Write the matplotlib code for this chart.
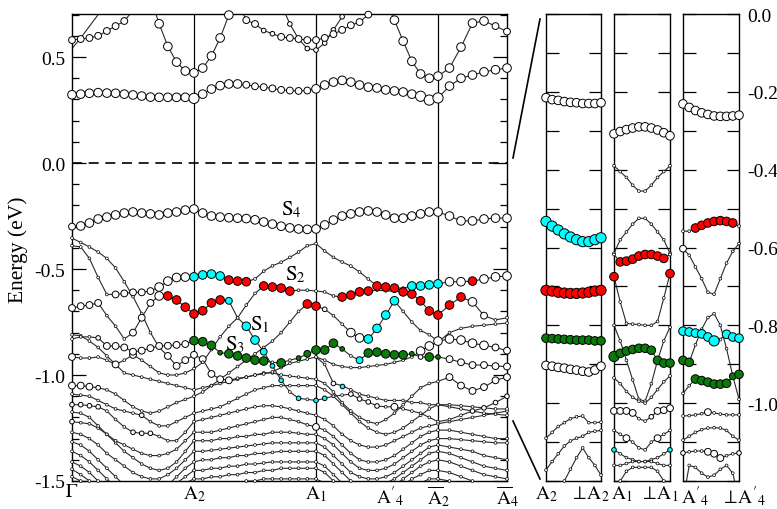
import numpy as np
import matplotlib
matplotlib.use("Agg")
import matplotlib.pyplot as plt
from matplotlib.ticker import MultipleLocator, FixedLocator
from matplotlib.lines import Line2D

plt.rcParams['font.family'] = ['Liberation Serif', 'DejaVu Serif']
plt.rcParams['mathtext.fontset'] = 'stix'
plt.rcParams['axes.unicode_minus'] = False

N = None

# k-path: segment lengths (plot units) and number of k-steps per segment
seg_len = [122, 122, 122, 69]
seg_steps = [14, 14, 14, 6]
kx = [0.0]
for L, n in zip(seg_len, seg_steps):
    kx += list(np.linspace(kx[-1], kx[-1] + L, n + 1)[1:])
kx = np.array(kx)

k_labels = [r"$\Gamma$", r"$\mathrm{A}_2$", r"$\mathrm{A}_1$", r"$\mathrm{A}'_4$",
            r"$\overline{\mathrm{A}}_2$", r"$\overline{\mathrm{A}}_4$"]
k_label_pos = [0, 122, 244, 318, 366, 435]
k_lines = [122, 244, 366]

# ---- main panel bands: energies (eV), marker size code, fill code ----
U1 = [0.58, 0.585, 0.59, 0.60, 0.623, 0.646, 0.67, 0.72, 0.78, 0.78, 0.657, 0.55, 0.476, 0.434, 0.425,
      0.448, 0.505, 0.59, 0.698, 0.76, 0.674, 0.656, 0.625, 0.61, 0.595, 0.59, 0.585, 0.58, 0.58,
      0.59, 0.608, 0.628, 0.65, 0.665, 0.70, 0.76, 0.76, 0.674, 0.575, 0.48, 0.42, 0.40, 0.41,
      0.448, 0.547, 0.66, 0.67, 0.646, 0.62]
U1_s = "222222222233333" + "33332221122222" + "22222233333333" + "333322"
U2 = [N] * 24 + [0.75, 0.656, 0.585, 0.54, 0.533, 0.566, 0.628, 0.69, 0.75] + [N] * 16
U2_s = "1" * 49
U3 = [0.54, 0.59, 0.645, 0.70, 0.76] + [N] * 44
U3_s = "9" * 49
C2 = [0.322, 0.325, 0.329, 0.332, 0.33, 0.329, 0.325, 0.321, 0.316, 0.311, 0.31, 0.31, 0.31, 0.31, 0.305,
      0.325, 0.349, 0.365, 0.373, 0.373, 0.369, 0.362, 0.358, 0.352, 0.345, 0.342, 0.34, 0.342, 0.35,
      0.368, 0.382, 0.39, 0.382, 0.368, 0.358, 0.354, 0.345, 0.34, 0.335, 0.325, 0.315, 0.297, 0.307,
      0.363, 0.40, 0.415, 0.43, 0.44, 0.448]
C2_s = "333333333333334" + "33333222222223" + "33333333333444" + "333333"
V1 = [-0.30, -0.297, -0.283, -0.264, -0.255, -0.245, -0.236, -0.231, -0.236, -0.24, -0.245, -0.236, -0.231, -0.222, -0.217,
      -0.236, -0.25, -0.255, -0.258, -0.26, -0.262, -0.268, -0.278, -0.288, -0.298, -0.306, -0.311, -0.313, -0.311,
      -0.292, -0.269, -0.25, -0.24, -0.231, -0.226, -0.231, -0.245, -0.26, -0.26, -0.25, -0.24, -0.231, -0.231,
      -0.25, -0.273, -0.273, -0.264, -0.26, -0.26]
V1_s = "233333333333333" + "33333333333333" + "33333333333333" + "333333"
B = [-0.39, -0.396, -0.45, -0.54, -0.62, -0.62, -0.615, -0.61, -0.61, -0.604, -0.585, -0.557, -0.54, -0.538, -0.537,
     -0.528, -0.524, -0.533, -0.552, -0.557, -0.56, -0.547, -0.51, -0.485, -0.468, -0.445, -0.42, -0.39, -0.38,
     -0.415, -0.445, -0.467, -0.486, -0.514, -0.547, -0.58, -0.585, -0.59, -0.59, -0.58, -0.58, -0.575, -0.57,
     -0.56, -0.56, -0.557, -0.547, -0.537, -0.533]
B_s = "000002222233333" + "33333300000000" + "00000033303333" + "333333"
B_c = "wwwwwwwwwwwwwwc" + "cccrrrwwwwwwww" + "wwwwwwrrrwcccc" + "wwrwww"
A = [-0.354, -0.375, -0.396, -0.42, -0.45, -0.495, -0.56, -0.63, -0.71, -0.80, -0.87, -0.91, -0.957, -0.93, -0.905,
     -0.925, -0.995, -1.02, -1.025, -1.015, -1.01, -1.0, -0.995, -0.985, -0.965, -0.945, -0.935, -0.925, -0.915,
     -0.95, -1.04, -1.05, -1.07, -1.09, -1.10, -1.11, -1.12, -1.12, -1.12, -1.13, -1.13, -1.14, -1.14,
     -1.14, -1.145, -1.15, -1.155, -1.16, -1.16]
A_s = "000000000002222" + "22220000000000" + "01100000000000" + "000000"
A_c = "w" * 29 + "wwcwwwwwwwwwww" + "w" * 6
R = [-0.684, -0.675, -0.67, -0.66, -0.72, -0.77, -0.83, -0.80, -0.73, -0.66, -0.627, -0.627, -0.646, -0.68, -0.712,
     -0.697, -0.66, -0.646, -0.65, -0.73, -0.77, -0.835, -0.89, -0.957, -1.025, -1.08, -1.11, -1.115, -1.12,
     -1.11, -1.10, -1.095, -1.09, -1.113, -1.127, -1.146, -1.15, -1.15, -1.16, -1.17, -1.18, -1.2, -1.22,
     -1.21, -1.19, -1.17, -1.155, -1.13, -1.10]
R_s = "222200022233333" + "33320332110101" + "10011110200000" + "001111"
R_c = "wwwwwwwwwwwrrrr" + "rrrcwcccccwcwc" + "cwwwwwwwwwwwww" + "wwwwww"
G = [-0.83, -0.82, -0.82, -0.825, -0.863, -0.863, -0.87, -0.89, -0.885, -0.873, -0.863, -0.862, -0.858, -0.854, -0.838,
     -0.843, -0.86, -0.895, -0.90, -0.91, -0.92, -0.93, -0.934, -0.94, -0.943, -0.93, -0.92, -0.90, -0.882,
     -0.882, -0.85, -0.877, -0.91, -0.93, -0.896, -0.892, -0.90, -0.905, -0.905, -0.90, -0.915, -0.915, -0.915,
     -0.925, -0.94, -0.953, -0.953, -0.958, -0.96]
G_s = "000122222222223" + "33133333030123" + "33102333331131" + "222222"
G_c = "wwwwwwwwwwwwwwg" + "ggggggggwgwggg" + "gggwcggggggwgg" + "wwwwww"
S2 = [-0.915, -0.92, -0.92, -0.915, -0.93, -0.95, -0.93, -0.905, -0.93, -0.96, -0.99, -1.0, -1.0, -0.99, -0.97,
      -0.94, -0.88, -0.82, -0.77, -0.73, -0.67, -0.615, -0.58, -0.585, -0.59, -0.604, -0.60, -0.60, -0.604,
      -0.608, -0.627, -0.632, -0.623, -0.608, -0.604, -0.60, -0.603, -0.605, -0.608, -0.618, -0.65, -0.698, -0.717,
      -0.67, -0.632, -0.655, -0.72, -0.74, -0.73]
S2_s = "200002020000000" + "00000003333000" + "00333300033333" + "333200"
S2_c = "w" * 15 + "wwwwwwwrrrrwww" + "wwrrrrwwwrrrrr" + "rrwwww"
D = [-1.05, -1.05, -1.055, -1.06, -1.07, -1.09, -1.12, -1.15, -1.17, -1.18, -1.17, -1.15, -1.13, -1.115, -1.10,
     -1.08, -1.05, -1.02, -0.99, -0.96, -0.93, -0.90, -0.87, -0.84, -0.80, -0.75, -0.70, -0.665, -0.675,
     -0.69, -0.72, -0.76, -0.80, -0.825, -0.83, -0.78, -0.717, -0.65, -0.70, -0.75, -0.79, -0.81, -0.84,
     -0.83, -0.835, -0.85, -0.86, -0.87, -0.885]
D_s = "222100000000000" + "00000000000033" + "10033333300003" + "333322"
D_c = "w" * 15 + "wwwwwwwwwwwwrr" + "wwwwwccccwwwww" + "wwwwww"
W = [N] * 28 + [-0.915, -0.93, -0.95, -0.96, -0.965, -0.965, -0.96, -0.955, -0.95, -0.94, -0.93, -0.915, -0.887, -0.863, -0.845,
                -0.80, -0.78, -0.77, -0.765, -0.76, -0.755]
W_s = "0" * 40 + "330" + "000000"
L1 = [-0.81, -0.815, -0.84, -0.87, -0.91, -0.95, -0.99, -1.0, -1.01, -1.02, -1.03, -1.04, -1.05, -1.06, -1.07,
      -1.06, -1.05, -1.04, -1.03, -1.02, -1.01, -1.0, -0.99, -0.99, -1.0, -1.005, -1.01, -1.015, -1.02,
      -1.04, -1.08, -1.13, -1.17, -1.2, -1.22, -1.23, -1.21, -1.18, -1.14, -1.10, -1.06, -1.04, -1.03,
      -1.01, -1.05, -1.075, -1.057, -1.025, -1.01]
L1_s = "0" * 43 + "222222"
L2 = [-1.09, -1.095, -1.10, -1.12, -1.14, -1.16, -1.17, -1.18, -1.19, -1.22, -1.24, -1.24, -1.22, -1.20, -1.18,
      -1.17, -1.16, -1.15, -1.13, -1.11, -1.09, -1.07, -1.06, -1.05, -1.05, -1.05, -1.05, -1.05, -1.05,
      -1.07, -1.10, -1.14, -1.18, -1.22, -1.25, -1.27, -1.28, -1.27, -1.25, -1.22, -1.19, -1.16, -1.14,
      -1.15, -1.16, -1.17, -1.18, -1.185, -1.19]
L2_s = "000000001000000" + "0" * 34
L3 = [-1.14, -1.14, -1.145, -1.15, -1.17, -1.21, -1.245, -1.27, -1.275, -1.275, -1.29, -1.31, -1.31, -1.27, -1.22,
      -1.21, -1.20, -1.19, -1.18, -1.17, -1.16, -1.15, -1.145, -1.145, -1.15, -1.16, -1.17, -1.18, -1.19,
      -1.21, -1.24, -1.28, -1.31, -1.33, -1.34, -1.34, -1.33, -1.31, -1.29, -1.27, -1.25, -1.24, -1.23,
      -1.22, -1.21, -1.20, -1.19, -1.18, -1.17]
L3_s = "111100011100000" + "0" * 34
L4 = [-1.175, -1.18, -1.20, -1.24, -1.28, -1.31, -1.33, -1.35, -1.37, -1.38, -1.38, -1.37, -1.35, -1.31, -1.27,
      -1.27, -1.27, -1.26, -1.25, -1.24, -1.23, -1.22, -1.21, -1.20, -1.20, -1.21, -1.22, -1.235, -1.245,
      -1.26, -1.29, -1.33, -1.37, -1.40, -1.41, -1.41, -1.40, -1.38, -1.35, -1.32, -1.29, -1.27, -1.26,
      -1.26, -1.27, -1.28, -1.29, -1.30, -1.30]
L4_s = "0" * 28 + "2" + "0" * 20
L5 = [-1.22, -1.225, -1.23, -1.25, -1.28, -1.32, -1.36, -1.39, -1.42, -1.44, -1.45, -1.44, -1.41, -1.36, -1.31,
      -1.31, -1.31, -1.30, -1.30, -1.29, -1.29, -1.28, -1.28, -1.27, -1.27, -1.27, -1.275, -1.28, -1.28,
      -1.30, -1.33, -1.37, -1.41, -1.44, -1.45, -1.45, -1.44, -1.42, -1.39, -1.36, -1.33, -1.31, -1.30,
      -1.30, -1.305, -1.31, -1.315, -1.32, -1.32]
L5_s = "1" + "0" * 48
L6 = [-1.27, -1.28, -1.30, -1.33, -1.37, -1.40, -1.43, -1.46, -1.48, -1.49, -1.49, -1.47, -1.44, -1.40, -1.36,
      -1.36, -1.355, -1.35, -1.345, -1.34, -1.335, -1.33, -1.325, -1.32, -1.32, -1.32, -1.32, -1.32, -1.32,
      -1.34, -1.38, -1.42, -1.46, -1.48, -1.49, -1.49, -1.48, -1.46, -1.43, -1.40, -1.37, -1.34, -1.33,
      -1.34, -1.35, -1.36, -1.38, -1.39, -1.40]
L7 = [-1.316, -1.33, -1.36, -1.40, -1.44, -1.48, -1.52, -1.55, -1.56, -1.56, -1.55, -1.52, -1.48, -1.44, -1.41,
      -1.40, -1.40, -1.39, -1.39, -1.38, -1.38, -1.37, -1.37, -1.365, -1.36, -1.36, -1.36, -1.36, -1.36,
      -1.38, -1.42, -1.46, -1.50, -1.53, -1.54, -1.53, -1.51, -1.49, -1.46, -1.43, -1.40, -1.37, -1.36,
      -1.37, -1.39, -1.41, -1.43, -1.44, -1.45]
L8 = [-1.36, -1.38, -1.41, -1.45, -1.49, -1.53, -1.56, -1.58, -1.60, -1.60, -1.58, -1.55, -1.51, -1.48, -1.45,
      -1.45, -1.44, -1.44, -1.43, -1.43, -1.42, -1.42, -1.415, -1.41, -1.41, -1.41, -1.41, -1.41, -1.41,
      -1.43, -1.47, -1.51, -1.55, -1.57, -1.58, -1.57, -1.55, -1.52, -1.49, -1.46, -1.43, -1.41, -1.40,
      -1.41, -1.43, -1.45, -1.47, -1.48, -1.49]
L9 = [-1.41, -1.43, -1.46, -1.50, -1.55, -1.60, -1.62, -1.63, -1.63, -1.62, -1.60, -1.57, -1.54, -1.51, -1.49,
      -1.49, -1.48, -1.48, -1.47, -1.47, -1.46, -1.46, -1.45, -1.45, -1.44, -1.44, -1.44, -1.44, -1.44,
      -1.46, -1.50, -1.55, -1.58, -1.60, -1.61, -1.60, -1.58, -1.55, -1.52, -1.49, -1.47, -1.45, -1.45,
      -1.46, -1.48, -1.50, -1.52, -1.53, -1.54]
L10 = [-1.445, -1.47, -1.50, -1.54, -1.58, -1.62, -1.64, -1.65, -1.65, -1.64, -1.62, -1.60, -1.58, -1.56, -1.55,
       -1.54, -1.53, -1.52, -1.52, -1.51, -1.50, -1.50, -1.49, -1.49, -1.49, -1.49, -1.49, -1.49, -1.49,
       -1.51, -1.55, -1.59, -1.62, -1.64, -1.65, -1.64, -1.62, -1.59, -1.56, -1.53, -1.51, -1.49, -1.49,
       -1.50, -1.52, -1.54, -1.56, -1.57, -1.58]
L11 = [-1.48, -1.50, -1.53, -1.57, -1.61, -1.64, -1.66, -1.67, -1.67, -1.66, -1.64, -1.62, -1.60, -1.59, -1.58,
       -1.58, -1.57, -1.57, -1.56, -1.56, -1.55, -1.55, -1.55, -1.54, -1.54, -1.54, -1.54, -1.54, -1.54,
       -1.56, -1.60, -1.63, -1.66, -1.68, -1.69, -1.68, -1.66, -1.63, -1.60, -1.57, -1.55, -1.54, -1.54,
       -1.55, -1.56, -1.58, -1.60, -1.61, -1.62]

main_bands = [
    (L11, "", ""), (L10, "", ""), (L9, "", ""), (L8, "", ""), (L7, "", ""), (L6, "", ""),
    (L5, L5_s, ""), (L4, L4_s, ""), (L3, L3_s, ""), (L2, L2_s, ""), (L1, L1_s, ""),
    (W, W_s, ""), (D, D_s, D_c), (A, A_s, A_c), (R, R_s, R_c), (S2, S2_s, S2_c), (G, G_s, G_c),
    (B, B_s, B_c), (V1, V1_s, ""), (C2, C2_s, ""), (U3, U3_s, ""), (U2, U2_s, ""), (U1, U1_s, ""),
]

state_labels = [r"$\mathrm{S}_4$", r"$\mathrm{S}_2$", r"$\mathrm{S}_1$", r"$\mathrm{S}_3$"]
state_x = [219, 223, 188, 163]
state_y = [-0.215, -0.522, -0.76, -0.855]

# ---- zoom panels (10 k-points each) ----
# bottom labels: text, x pixel, alignment
panel_labels = [
    (r"$\mathrm{A}_2$", 546, 'center'), (r"$\perp\!\mathrm{A}_2$", 610, 'right'),
    (r"$\mathrm{A}_1$", 611, 'left'), (r"$\perp\!\mathrm{A}_1$", 679, 'right'),
    (r"$\mathrm{A}'_4$", 681, 'left'), (r"$\perp\!\mathrm{A}'_4$", 766, 'right'),
]
panel_ytick_vals = [0.0, -0.2, -0.4, -0.6, -0.8, -1.0]
panel_ytick_text = ["0.0", "-0.2", "-0.4", "-0.6", "-0.8", "-1.0"]

p1 = [
    ([-0.215, -0.22, -0.222, -0.225, -0.227, -0.228, -0.23, -0.23, -0.23, -0.228], "3" * 10, ""),
    ([-0.533, -0.545, -0.555, -0.565, -0.573, -0.58, -0.585, -0.585, -0.58, -0.575], "4" * 10, "c" * 10),
    ([-0.71, -0.712, -0.715, -0.717, -0.718, -0.718, -0.717, -0.715, -0.712, -0.71], "4" * 10, "r" * 10),
    ([-0.833, -0.834, -0.835, -0.836, -0.837, -0.838, -0.838, -0.838, -0.84, -0.84], "3" * 10, "g" * 10),
    ([-0.903, -0.905, -0.908, -0.91, -0.913, -0.915, -0.918, -0.92, -0.915, -0.905], "3" * 10, ""),
    ([-1.09, -1.075, -1.06, -1.05, -1.04, -1.035, -1.033, -1.05, -1.05, -1.049], "0" * 10, ""),
    ([-1.172, -1.15, -1.13, -1.11, -1.097, -1.09, -1.085, -1.075, -1.072, -1.07], "0" * 10, ""),
    ([N, N, -1.25, -1.2, -1.17, -1.14, -1.115, -1.14, -1.16, -1.185], "0" * 10, ""),
]
p2 = [
    ([-0.308, -0.302, -0.297, -0.293, -0.29, -0.29, -0.293, -0.298, -0.305, -0.313], "3" * 10, ""),
    ([-0.39, -0.405, -0.42, -0.44, -0.455, -0.455, -0.44, -0.42, -0.405, -0.39], "0" * 10, ""),
    ([-0.615, -0.58, -0.56, -0.54, -0.525, -0.525, -0.54, -0.56, -0.58, -0.615], "0" * 10, ""),
    ([-0.618, -0.637, -0.635, -0.63, -0.622, -0.618, -0.618, -0.622, -0.628, -0.618], "0333333330", "wrrrrrrrrw"),
    ([-0.675, -0.74, -0.795, -0.797, -0.798, -0.80, -0.80, -0.79, -0.73, -0.667], "3000000003", "rwwwwwwwwr"),
    ([-0.88, -0.872, -0.866, -0.862, -0.859, -0.859, -0.864, -0.89, -0.897, -0.897], "4333333333", "g" * 10),
    ([-0.80, -0.84, -0.89, -0.94, -0.99, -0.995, -0.95, -0.89, -0.84, -0.805], "0" * 10, ""),
    ([-0.935, -0.95, -0.97, -0.985, -0.995, -1.0, -0.985, -0.965, -0.945, -0.93], "0" * 10, ""),
    ([-1.02, -1.02, -1.02, -1.025, -1.04, -1.046, -1.035, -1.02, -1.018, -1.013], "2222001222", ""),
    ([-1.07, -1.08, -1.09, -1.10, -1.115, -1.12, -1.10, -1.09, -1.08, -1.07], "0020000200", ""),
    ([-1.12, -1.13, -1.14, -1.145, -1.15, -1.15, -1.145, -1.14, -1.13, -1.12], "1000000001", "cwwwwwwwwc"),
    ([-1.16, -1.16, -1.155, -1.15, -1.15, -1.15, -1.15, -1.155, -1.16, -1.16], "0" * 10, ""),
    ([-1.25, -1.20, -1.175, -1.165, -1.165, -1.165, -1.165, -1.175, -1.20, -1.25], "0" * 10, ""),
]
p3 = [
    ([-0.231, -0.24, -0.248, -0.254, -0.258, -0.262, -0.263, -0.263, -0.262, -0.26], "3" * 10, ""),
    ([-0.558, -0.558, -0.55, -0.543, -0.537, -0.533, -0.531, -0.533, -0.537, -0.545], "0033333330", "wwrrrrrrrw"),
    ([-0.603, -0.62, -0.65, -0.68, -0.715, -0.72, -0.68, -0.64, -0.61, -0.59], "2000000000", ""),
    ([-0.89, -0.895, -0.85, -0.81, -0.78, -0.77, -0.80, -0.86, -0.93, -0.99], "3300000000", "ggwwwwwwww"),
    ([-0.815, -0.817, -0.82, -0.822, -0.83, -0.84, -0.835, -0.823, -0.83, -0.833], "3333340333", "ccccccwccc"),
    ([-0.975, -0.955, -0.938, -0.942, -0.946, -0.951, -0.951, -0.949, -0.931, -0.926], "0033333323", "wwgggggggg"),
    ([-1.033, -1.032, -1.03, -1.027, -1.023, -1.025, -1.028, -1.03, -1.03, -1.03], "0000200000", ""),
    ([-1.095, -1.085, -1.075, -1.068, -1.064, -1.063, -1.064, -1.07, -1.085, -1.095], "0" * 10, ""),
    ([-1.128, -1.125, -1.123, -1.123, -1.125, -1.13, -1.141, -1.135, -1.13, -1.128], "1000222001", ""),
    ([-1.25, -1.16, -1.165, -1.18, -1.19, -1.185, -1.17, -1.16, -1.18, -1.25], "0" * 10, ""),
]

# marker diameters in pixels for each size code, fills for each colour code
DIAM = {'0': 2.8, '1': 4.6, '2': 6.8, '3': 8.6, '4': 10.2}
FILL = {'w': 'white', 'r': '#ff0000', 'c': '#00ffff', 'g': '#0a7a0a'}
LINE_COL = '#2a2a2a'


def draw_band(ax, x, e, sizes, cols, ylo, yhi):
    e = np.array(e, dtype=float)
    n = len(e)
    sizes = (sizes + '0' * n)[:n]
    cols = (cols + 'w' * n)[:n]
    ax.plot(x, e, color=LINE_COL, lw=0.8, zorder=2)
    for colored in (False, True):
        xs, ys, ss, fc, lw = [], [], [], [], []
        for xi, ei, s, c in zip(x, e, sizes, cols):
            if np.isnan(ei) or ei < ylo or ei > yhi or s not in DIAM:
                continue
            if (c != 'w') != colored:
                continue
            d = DIAM[s] * 0.72
            xs.append(xi); ys.append(ei); ss.append(d * d)
            fc.append(FILL[c]); lw.append(0.5 if s == '0' else 0.7)
        if xs:
            ax.scatter(xs, ys, s=ss, c=fc, edgecolors='black', linewidths=lw,
                       zorder=4 if colored else 3, clip_on=False)


W_PX, H_PX = 777, 510
fig = plt.figure(figsize=(W_PX / 100, H_PX / 100), dpi=100)
bot = 1 - 482 / H_PX
hgt = 467 / H_PX

# main panel
ax = fig.add_axes([72 / W_PX, bot, 435 / W_PX, hgt])
ylo, yhi = -1.5, 0.703
for e, s, c in main_bands:
    draw_band(ax, kx, e, s, c, ylo, yhi)
for xv in k_lines:
    ax.axvline(xv, color='black', lw=0.9, zorder=1)
ax.axhline(0.0, color='black', lw=1.2, ls=(0, (6, 4)), zorder=1)
ax.set_xlim(0, 435)
ax.set_ylim(ylo, yhi)
ax.set_xticks([])
ax.yaxis.set_major_locator(FixedLocator([-1.5, -1.0, -0.5, 0.0, 0.5]))
ax.yaxis.set_minor_locator(MultipleLocator(0.1))
ax.set_yticklabels(["-1.5", "-1.0", "-0.5", "0.0", "0.5"], fontsize=14)
ax.tick_params(axis='y', which='both', direction='in', left=True, right=True, pad=5)
ax.tick_params(axis='y', which='major', length=10, width=0.9)
ax.tick_params(axis='y', which='minor', length=5, width=0.9)
for sp in ax.spines.values():
    sp.set_linewidth(1.0)
for t, xx, yy in zip(state_labels, state_x, state_y):
    ax.text(xx, yy, t, fontsize=15, ha='center', va='center', zorder=6)
for t, xx in zip(k_labels, k_label_pos):
    fig.text((72 + xx) / W_PX, 1 - 484 / H_PX, t, fontsize=14, ha='center', va='top')

fig.text(18 / W_PX, 1 - 250 / H_PX, "Energy (eV)", rotation=90, ha='center', va='center', fontsize=15.5)

# zoom panels
px = np.arange(10)
panel_left = [546, 614, 683]
panel_w = [55, 56, 56]
for i, pdata in enumerate([p1, p2, p3]):
    pax = fig.add_axes([panel_left[i] / W_PX, bot, panel_w[i] / W_PX, hgt])
    for e, s, c in pdata:
        draw_band(pax, px, e, s, c, -1.2, 0.0)
    pax.set_xlim(0, 9)
    pax.set_ylim(-1.2, 0.0)
    pax.set_xticks([])
    pax.yaxis.set_major_locator(FixedLocator(panel_ytick_vals))
    pax.yaxis.set_minor_locator(MultipleLocator(0.1))
    pax.tick_params(axis='y', which='both', direction='in', left=True, right=True,
                    length=9, width=0.9)
    if i == 2:
        pax.tick_params(axis='y', labelleft=False, labelright=True, labelsize=14, pad=6)
        pax.set_yticklabels(panel_ytick_text)
    else:
        pax.tick_params(axis='y', labelleft=False, labelright=False)
    for sp in pax.spines.values():
        sp.set_linewidth(1.0)

for t, xpx, ha in panel_labels:
    fig.text(xpx / W_PX, 1 - 484 / H_PX, t, fontsize=14, ha=ha, va='top')

# connector lines from the main panel to the zooms
fig.add_artist(Line2D([513 / W_PX, 540 / W_PX], [1 - 159 / H_PX, 1 - 20 / H_PX],
                      transform=fig.transFigure, color='black', lw=1.2))
fig.add_artist(Line2D([513 / W_PX, 540 / W_PX], [1 - 422 / H_PX, 1 - 480 / H_PX],
                      transform=fig.transFigure, color='black', lw=1.2))

fig.savefig("out.png", dpi=100)
